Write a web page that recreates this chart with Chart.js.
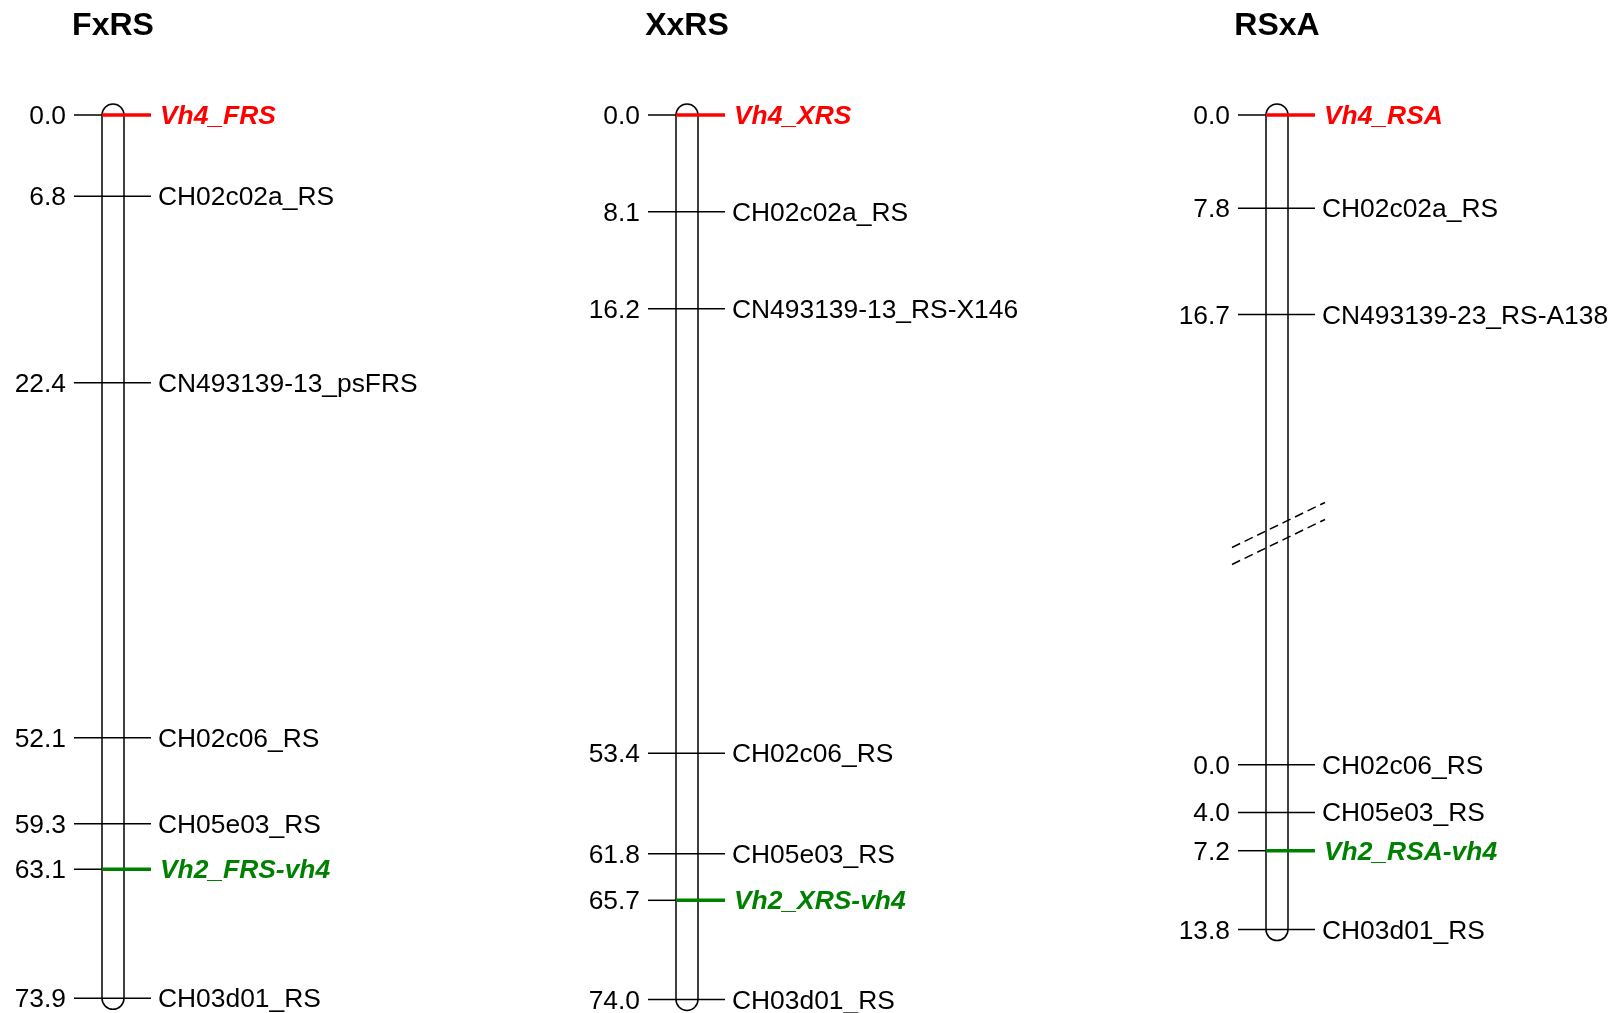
<!DOCTYPE html>
<html>
<head>
<meta charset="utf-8">
<script src="https://cdn.jsdelivr.net/npm/chart.js@4/dist/chart.umd.min.js"></script>
<style>
  html, body { margin: 0; padding: 0; background: #ffffff; }
  #wrap { width: 1616px; height: 1013px; position: relative; }
</style>
</head>
<body>
<div id="wrap"><canvas id="c"></canvas></div>
<script>
// ---------------- DATA ----------------
const mapNames = ['FxRS', 'XxRS', 'RSxA'];

const fxrsMarkers = ['Vh4_FRS', 'CH02c02a_RS', 'CN493139-13_psFRS', 'CH02c06_RS', 'CH05e03_RS', 'Vh2_FRS-vh4', 'CH03d01_RS'];
const fxrsPos     = [0.0, 6.8, 22.4, 52.1, 59.3, 63.1, 73.9];
const fxrsKind    = ['Vh4', '', '', '', '', 'Vh2', ''];

const xxrsMarkers = ['Vh4_XRS', 'CH02c02a_RS', 'CN493139-13_RS-X146', 'CH02c06_RS', 'CH05e03_RS', 'Vh2_XRS-vh4', 'CH03d01_RS'];
const xxrsPos     = [0.0, 8.1, 16.2, 53.4, 61.8, 65.7, 74.0];
const xxrsKind    = ['Vh4', '', '', '', '', 'Vh2', ''];

// RSxA is drawn as two linkage groups joined across a break
const rsxaTopMarkers = ['Vh4_RSA', 'CH02c02a_RS', 'CN493139-23_RS-A138'];
const rsxaTopPos     = [0.0, 7.8, 16.7];
const rsxaTopKind    = ['Vh4', '', ''];

const rsxaBotMarkers = ['CH02c06_RS', 'CH05e03_RS', 'Vh2_RSA-vh4', 'CH03d01_RS'];
const rsxaBotPos     = [0.0, 4.0, 7.2, 13.8];
const rsxaBotKind    = ['', '', 'Vh2', ''];

// ---------------- LAYOUT / STYLE ----------------
const mapCenters = [113, 687, 1277];        // x position of each chromosome (layout units = px)
const rsxaBotOffset = 54.35;                // drawing offset (cM units) of lower RSxA group
const rsxaBreakAt = 35.05;                  // drawing position of break symbol (cM units)
const kindColor = { 'Vh4': '#ff0000', 'Vh2': '#008000', '': '#000000' };
const FONT = '"Liberation Sans", Arial, Helvetica, sans-serif';

const groups = [
  { map: 0, offset: 0, names: fxrsMarkers, pos: fxrsPos, kind: fxrsKind },
  { map: 1, offset: 0, names: xxrsMarkers, pos: xxrsPos, kind: xxrsKind },
  { map: 2, offset: 0, names: rsxaTopMarkers, pos: rsxaTopPos, kind: rsxaTopKind },
  { map: 2, offset: rsxaBotOffset, names: rsxaBotMarkers, pos: rsxaBotPos, kind: rsxaBotKind }
];

const yMin = -9.621;
const yMax = yMin + 1013 / 11.953;

const linkagePlugin = {
  id: 'linkage',
  afterDraw(chart) {
    const ctx = chart.ctx;
    const X = chart.scales.x, Y = chart.scales.y;
    const hw = 11;
    ctx.save();

    // titles
    ctx.fillStyle = '#000';
    ctx.font = 'bold 32px ' + FONT;
    ctx.textAlign = 'center';
    ctx.textBaseline = 'alphabetic';
    mapNames.forEach((n, i) => {
      ctx.fillText(n, X.getPixelForValue(mapCenters[i]), 34.5);
    });

    // chromosomes
    mapNames.forEach((n, i) => {
      const gs = groups.filter(g => g.map === i);
      let lo = Infinity, hi = -Infinity;
      gs.forEach(g => g.pos.forEach(p => { lo = Math.min(lo, p + g.offset); hi = Math.max(hi, p + g.offset); }));
      const cx = X.getPixelForValue(mapCenters[i]);
      const yT = Y.getPixelForValue(lo), yB = Y.getPixelForValue(hi);
      ctx.beginPath();
      ctx.moveTo(cx - hw, yT);
      ctx.lineTo(cx - hw, yB);
      ctx.arc(cx, yB, hw, Math.PI, 0, true);
      ctx.lineTo(cx + hw, yT);
      ctx.arc(cx, yT, hw, 0, Math.PI, true);
      ctx.closePath();
      ctx.fillStyle = '#fff';
      ctx.fill();
      ctx.lineWidth = 1.5;
      ctx.strokeStyle = '#000';
      ctx.stroke();
    });

    // break symbol on RSxA
    {
      const cx = X.getPixelForValue(mapCenters[2]);
      const yc = Y.getPixelForValue(rsxaBreakAt);
      ctx.setLineDash([9, 5]);
      ctx.lineWidth = 1.5;
      ctx.strokeStyle = '#000';
      [-8.5, 8.5].forEach(d => {
        ctx.beginPath();
        ctx.moveTo(cx - 45, yc + d + 22);
        ctx.lineTo(cx + 48, yc + d - 23);
        ctx.stroke();
      });
      ctx.setLineDash([]);
    }

    // markers
    groups.forEach(g => {
      const cx = X.getPixelForValue(mapCenters[g.map]);
      g.pos.forEach((p, k) => {
        const y = Y.getPixelForValue(p + g.offset);
        const kind = g.kind[k];
        const col = kindColor[kind];
        ctx.lineWidth = 1.5;
        ctx.strokeStyle = '#000';
        ctx.beginPath();
        ctx.moveTo(cx - 39, y);
        ctx.lineTo(kind ? cx - hw : cx + 38, y);
        ctx.stroke();
        if (kind) {
          ctx.lineWidth = 3.5;
          ctx.strokeStyle = col;
          ctx.beginPath();
          ctx.moveTo(cx - hw, y);
          ctx.lineTo(cx + 38, y);
          ctx.stroke();
        }
        // position label
        ctx.fillStyle = '#000';
        ctx.font = '26.4px ' + FONT;
        ctx.textAlign = 'right';
        ctx.textBaseline = 'alphabetic';
        ctx.fillText(p.toFixed(1), cx - 47, y + 9);
        // marker label
        ctx.textAlign = 'left';
        if (kind) {
          ctx.fillStyle = col;
          ctx.font = 'italic bold 26.4px ' + FONT;
          ctx.fillText(g.names[k], cx + 47, y + 9);
        } else {
          ctx.fillStyle = '#000';
          ctx.font = '26.4px ' + FONT;
          ctx.fillText(g.names[k], cx + 45, y + 9);
        }
      });
    });
    ctx.restore();
  }
};

new Chart(document.getElementById('c'), {
  type: 'scatter',
  data: { datasets: [{ data: [], pointRadius: 0 }] },
  options: {
    responsive: true,
    maintainAspectRatio: false,
    animation: false,
    events: [],
    layout: { padding: 0 },
    plugins: { legend: { display: false }, tooltip: { enabled: false }, title: { display: false } },
    scales: {
      x: { type: 'linear', display: false, min: 0, max: 1616 },
      y: { type: 'linear', display: false, reverse: true, min: yMin, max: yMax }
    }
  },
  plugins: [linkagePlugin]
});
</script>
</body>
</html>
